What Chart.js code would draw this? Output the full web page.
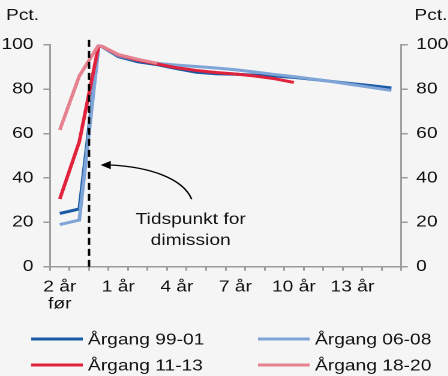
<!DOCTYPE html>
<html>
<head>
<meta charset="utf-8">
<script src="https://cdn.jsdelivr.net/npm/chart.js@4.4.1/dist/chart.umd.min.js"></script>
<style>
  html, body { margin: 0; padding: 0; background: #f5f5f5; }
  /* the source picture is stretched sideways a little, so we do the same */
  #wrap { width: 373px; height: 376px; transform: scaleX(1.2); transform-origin: 0 0; }
</style>
</head>
<body>
<div id="wrap"><canvas id="chart"></canvas></div>
<script>
const categories = ['2 år før', '1 år før', 'Dimission', '1 år', '2 år', '3 år', '4 år', '5 år', '6 år',
  '7 år', '8 år', '9 år', '10 år', '11 år', '12 år', '13 år', '14 år', '15 år'];
const tickLabels = [['2 år', 'før'], '', '', '1 år', '', '', '4 år', '', '', '7 år', '', '', '10 år', '', '', '13 år', '', ''];
const yTicks = [0, 20, 40, 60, 80, 100];

const aargang9901 = [24, 26, 100, 94.6, 92.3, 91.0, 89.2, 87.6, 86.9, 86.7, 86.3, 85.9, 85.3, 84.4, 83.4, 82.4, 81.5, 80.5];
const aargang0608 = [19, 21, 100, 95.0, 93.0, 91.6, 90.8, 90.2, 89.5, 88.7, 87.7, 86.6, 85.6, 84.5, 83.3, 82.0, 80.7, 79.4];
const aargang1113 = [30.5, 56.3, 100, 95.4, 93.0, 91.3, 89.6, 88.4, 87.5, 86.8, 85.9, 84.7, 83.0, null, null, null, null, null];
const aargang1820 = [61.6, 85.9, 100, 95.6, 93.4, 91.6, null, null, null, null, null, null, null, null, null, null, null, null];

const seriesNames = ['Årgang 99-01', 'Årgang 06-08', 'Årgang 11-13', 'Årgang 18-20'];
const colours = ['#1b5aa4', '#7fa4d7', '#e1223d', '#e6818f'];

const axisGrey = '#9c9c9c';
const textCol = '#111';

Chart.defaults.font.family = '"Liberation Sans", Arial, sans-serif';
Chart.defaults.font.size = 16;
Chart.defaults.color = textCol;

// dashed line, arrow, note, "Pct." and the two-column legend
const extras = {
  id: 'extras',
  afterDatasetsDraw(chart) {
    const ctx = chart.ctx;
    const x = chart.scales.x, y = chart.scales.y;

    // graduation marker between "1 år før" and dimission
    const dx = (x.getPixelForValue(1) + x.getPixelForValue(2)) / 2;
    ctx.save();
    ctx.strokeStyle = '#000';
    ctx.lineWidth = 2;
    ctx.setLineDash([7, 4]);
    ctx.beginPath();
    ctx.moveTo(dx, y.getPixelForValue(102.2));
    ctx.lineTo(dx, y.getPixelForValue(0));
    ctx.stroke();
    ctx.restore();

    // arrow
    const tip = [x.getPixelForValue(2.09), y.getPixelForValue(45.8)];
    const base = tip[0] + 8.5;
    ctx.save();
    ctx.strokeStyle = '#000';
    ctx.lineWidth = 1.3;
    ctx.beginPath();
    ctx.moveTo(x.getPixelForValue(6.76), y.getPixelForValue(30.4));
    ctx.bezierCurveTo(x.getPixelForValue(6.3), y.getPixelForValue(40),
      x.getPixelForValue(4.56), y.getPixelForValue(44.9), base, tip[1]);
    ctx.stroke();
    ctx.fillStyle = '#000';
    ctx.beginPath();
    ctx.moveTo(tip[0], tip[1]);
    ctx.lineTo(base, tip[1] - 4.2);
    ctx.lineTo(base, tip[1] + 4.2);
    ctx.closePath();
    ctx.fill();

    ctx.fillStyle = textCol;
    ctx.font = '16px "Liberation Sans", Arial, sans-serif';
    ctx.textAlign = 'center';
    ctx.textBaseline = 'alphabetic';
    const nx = x.getPixelForValue(6.71);
    ctx.fillText('Tidspunkt for', nx, y.getPixelForValue(19.2));
    ctx.fillText('dimission', nx, y.getPixelForValue(9.7));

    // unit labels
    ctx.textAlign = 'left';
    ctx.fillText('Pct.', 5, 20);
    ctx.fillText('Pct.', 345.3, 20);

    // legend
    const cols = [[26, 73.3], [215, 262.5]];
    const rows = [339, 365];
    chart.data.datasets.forEach((ds, i) => {
      const c = cols[i % 2], r = rows[Math.floor(i / 2)];
      ctx.strokeStyle = ds.borderColor;
      ctx.lineWidth = 3;
      ctx.beginPath();
      ctx.moveTo(c[0], r);
      ctx.lineTo(c[0] + 43, r);
      ctx.stroke();
      ctx.fillText(ds.label, c[1], r + 5.7);
    });
    ctx.restore();
  }
};

const yAxis = (pos, width, pad) => ({
  position: pos,
  min: 0,
  max: 100,
  afterBuildTicks: s => { s.ticks = yTicks.map(v => ({ value: v })); },
  ticks: { padding: pad, color: textCol },
  grid: { drawOnChartArea: false, tickLength: 5.5, color: axisGrey, lineWidth: 1.5 },
  border: { color: axisGrey, width: 1.5 },
  afterFit: s => { s.width = width; }
});

new Chart(document.getElementById('chart'), {
  type: 'line',
  data: {
    labels: categories,
    datasets: [aargang9901, aargang0608, aargang1113, aargang1820].map((d, i) => ({
      label: seriesNames[i],
      data: d,
      borderColor: colours[i],
      borderWidth: 3,
      pointRadius: 0,
      tension: 0,
      spanGaps: false,
      order: -i   // later cohorts on top
    }))
  },
  options: {
    responsive: true,
    maintainAspectRatio: false,
    animation: false,
    devicePixelRatio: 2,
    layout: { padding: { top: 44.7, left: 0, right: 0, bottom: 59.3 } },
    plugins: { legend: { display: false }, tooltip: { enabled: false } },
    scales: {
      x: {
        type: 'category',
        offset: true,
        grid: { offset: true, drawOnChartArea: false, tickLength: 4, color: axisGrey, lineWidth: 1.5 },
        border: { color: axisGrey, width: 1.5 },
        ticks: {
          autoSkip: false, maxRotation: 0, minRotation: 0, padding: 8, color: textCol,
          font: { size: 16, lineHeight: 1.05 },
          callback: (v, i) => tickLabels[i]
        },
        afterFit: s => { s.height = 50; }
      },
      y: yAxis('left', 41.7, 8.3),
      y2: yAxis('right', 38.7, 7)
    }
  },
  plugins: [extras]
});
</script>
</body>
</html>
